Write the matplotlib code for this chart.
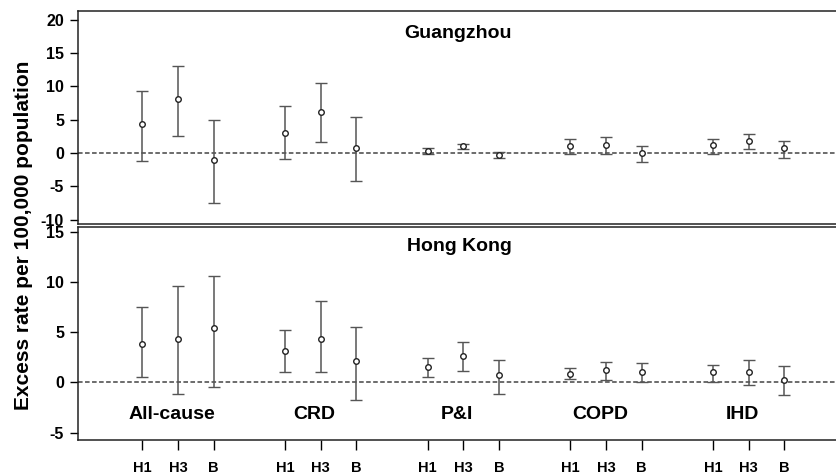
import matplotlib
matplotlib.use("Agg")
import matplotlib.pyplot as plt
import numpy as np

plt.rcParams['font.family'] = ['Liberation Sans', 'DejaVu Sans']
plt.rcParams['font.weight'] = 'bold'
plt.rcParams['axes.unicode_minus'] = False

causes = ['All-cause', 'CRD', 'P&I', 'COPD', 'IHD']
subtypes = ['H1', 'H3', 'B']

# Guangzhou: estimate, lower, upper (per cause: H1, H3, B)
gz_est = [4.4, 8.1, -1.1, 3.05, 6.2, 0.8, 0.35, 1.1, -0.3, 1.05, 1.15, -0.05, 1.15, 1.8, 0.75]
gz_lo = [-1.15, 2.5, -7.5, -0.95, 1.7, -4.15, -0.1, 0.6, -0.75, -0.15, -0.1, -1.4, -0.2, 0.55, -0.75]
gz_hi = [9.35, 13.0, 5.0, 7.1, 10.5, 5.4, 0.7, 1.4, 0.1, 2.05, 2.35, 1.05, 2.05, 2.85, 1.75]

# Hong Kong
hk_est = [3.85, 4.35, 5.4, 3.15, 4.35, 2.16, 1.56, 2.66, 0.7, 0.87, 1.2, 1.06, 1.0, 1.0, 0.27]
hk_lo = [0.54, -1.1, -0.46, 1.0, 1.0, -1.7, 0.5, 1.13, -1.12, 0.3, 0.24, 0.07, 0.07, -0.27, -1.22]
hk_hi = [7.46, 9.55, 10.6, 5.25, 8.13, 5.47, 2.43, 4.02, 2.19, 1.43, 2.0, 1.89, 1.73, 2.23, 1.63]

# x positions: groups of three, 4 units apart
xpos = np.array([4 * g + 1 + k for g in range(len(causes)) for k in range(len(subtypes))])
xlabels = subtypes * len(causes)

W, H = 836, 474
fig = plt.figure(figsize=(W / 100, H / 100), dpi=100)
ax1 = fig.add_axes([78 / W, 1 - 224 / H, 762 / W, 213 / H])
ax2 = fig.add_axes([78 / W, 1 - 440 / H, 762 / W, 213 / H])


def draw_panel(ax, est, lo, hi):
    est = np.array(est)
    yerr = [est - np.array(lo), np.array(hi) - est]
    ax.axhline(0, color='#444444', lw=1.1, ls=(0, (3, 1.6)), zorder=1)
    _, caps, bars = ax.errorbar(xpos, est, yerr=yerr, fmt='o', ms=4, mfc='white',
                                mec='#222222', mew=1, ecolor='#555555', elinewidth=1.1,
                                capsize=4.4, capthick=1.1, zorder=3)
    for c in caps:
        c.set_color('#222222')
    ax.set_xlim(-0.8, 20.56)
    for s in ax.spines.values():
        s.set_color('#222222')
        s.set_linewidth(1.1)
    ax.tick_params(axis='y', direction='out', length=6, width=1, pad=4, labelsize=11.5)


draw_panel(ax1, gz_est, gz_lo, gz_hi)
ax1.set_ylim(-10.65, 21.3)
ax1.set_yticks([-10, -5, 0, 5, 10, 15, 20])
ax1.set_xticks([])
ax1.text(9.85, 18.0, 'Guangzhou', ha='center', va='center', fontsize=14, fontweight='bold')

draw_panel(ax2, hk_est, hk_lo, hk_hi)
ax2.set_ylim(-5.72, 15.46)
ax2.set_yticks([-5, 0, 5, 10, 15])
ax2.set_xticks(xpos)
ax2.set_xticklabels(xlabels, fontsize=10.5, fontweight='bold')
ax2.tick_params(axis='x', direction='out', length=7, width=1, pad=8)
ax2.text(9.9, 13.5, 'Hong Kong', ha='center', va='center', fontsize=14, fontweight='bold')
for g, name in enumerate(causes):
    ax2.text(4 * g + 2 - 0.17, -3.2, name, ha='center', va='center', fontsize=14, fontweight='bold')

fig.text(24 / W, 1 - 235 / H, 'Excess rate per 100,000 population', rotation=90,
         ha='center', va='center', fontsize=15, fontweight='bold')

fig.savefig('out.png', dpi=100)
